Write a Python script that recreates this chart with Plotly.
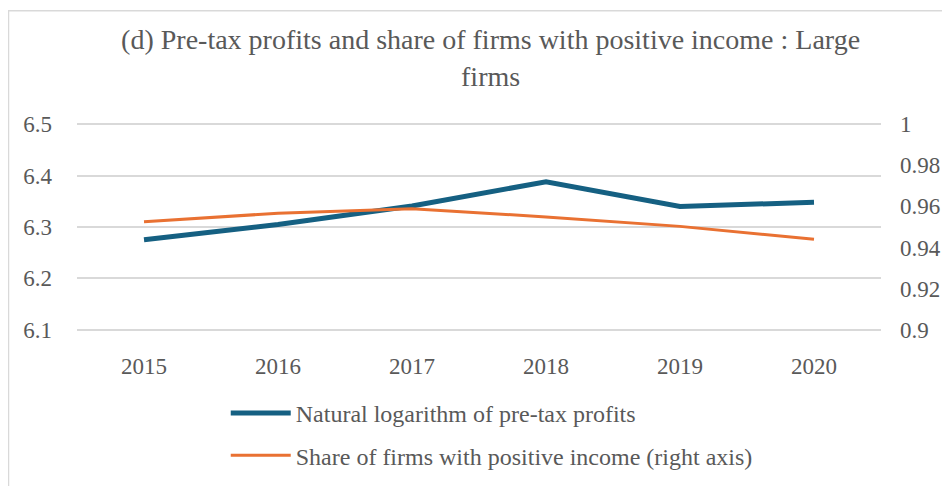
import plotly.graph_objects as go

years = ["2015", "2016", "2017", "2018", "2019", "2020"]
log_profits = [6.275, 6.305, 6.341, 6.388, 6.340, 6.348]
share_positive = [0.9525, 0.9567, 0.9589, 0.9549, 0.9503, 0.9440]

left_ticks = [6.1, 6.2, 6.3, 6.4, 6.5]
left_labels = ["6.1", "6.2", "6.3", "6.4", "6.5"]
right_ticks = [0.9, 0.92, 0.94, 0.96, 0.98, 1.0]
right_labels = ["0.9", "0.92", "0.94", "0.96", "0.98", "1"]

FONT = "Liberation Serif"
GREY = "#595959"

fig = go.Figure()
fig.add_trace(go.Scatter(x=years, y=log_profits, mode="lines",
                         name="Natural logarithm of pre-tax profits",
                         legendgroup="a",
                         line=dict(color="#156082", width=5)))
fig.add_trace(go.Scatter(x=years, y=share_positive, mode="lines",
                         name="Share of firms with positive income (right axis)",
                         legendgroup="b",
                         line=dict(color="#E97132", width=3), yaxis="y2"))

fig.update_layout(
    width=950, height=486,
    paper_bgcolor="white", plot_bgcolor="white",
    margin=dict(l=69, r=77, t=115, b=159),
    font=dict(family=FONT, color=GREY, size=23),
    title=dict(text="(d) Pre-tax profits and share of firms with positive income : Large<br>firms",
               x=0.508, xanchor="center", y=0.915, yanchor="top",
               font=dict(family=FONT, size=28, color=GREY)),
    xaxis=dict(type="category", range=[-0.5, 5.5], showgrid=False,
               showline=False, zeroline=False, ticks="", ticklabelstandoff=19,
               tickfont=dict(size=23, color=GREY)),
    yaxis=dict(range=[6.0977, 6.5023], tickvals=left_ticks, ticktext=left_labels,
               showgrid=True, gridcolor="#D9D9D9", gridwidth=1.5, zeroline=False,
               showline=False, ticks="", ticklabelstandoff=24,
               tickfont=dict(size=23, color=GREY)),
    yaxis2=dict(range=[0.89943, 1.00057], tickvals=right_ticks, ticktext=right_labels,
                overlaying="y", side="right", showgrid=False, zeroline=False,
                showline=False, ticks="", ticklabelstandoff=18,
                tickfont=dict(size=23, color=GREY)),
    legend=dict(orientation="v", xref="paper", x=0.185, xanchor="left",
                yref="container", y=0.212, yanchor="top",
                font=dict(size=24, color=GREY), itemwidth=60, tracegroupgap=8,
                bgcolor="rgba(0,0,0,0)"),
    showlegend=True,
    shapes=[dict(type="rect", xref="paper", yref="paper",
                 x0=-0.0852, x1=1.2, y0=-0.9, y1=1.540,
                 line=dict(color="#D9D9D9", width=1.5), fillcolor="rgba(0,0,0,0)",
                 layer="below")],
)

fig.write_html("out.html")
